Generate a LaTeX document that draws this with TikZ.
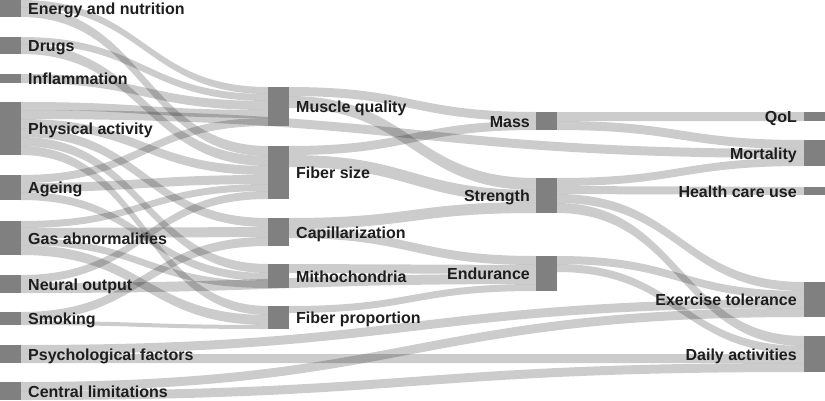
\documentclass[tikz,border=0pt]{standalone}
\usepackage{fontspec}
\setmainfont{Liberation Sans}
\usetikzlibrary{calc,backgrounds}
\definecolor{nodegray}{RGB}{128,128,128}
\definecolor{labelc}{RGB}{30,30,30}
\tikzset{
  box/.style={fill=nodegray, draw=none, minimum width=21pt, inner sep=0pt, outer sep=0pt, anchor=north west},
  flow/.style={fill=black, fill opacity=0.2},
  lbl/.style={font=\fontsize{16}{19}\selectfont\bfseries, text=labelc, inner sep=0pt},
}
\newcommand\sankeyband[5]{%
  \path (#1.north east) ++(0,#2) coordinate (s1) ++(0,#5) coordinate (s2);
  \path (#3.north west) ++(0,#4) coordinate (t1) ++(0,#5) coordinate (t2);
  \coordinate (m) at ($(s1)!0.5!(t1)$);
  \fill[flow] (s1) .. controls (m |- s1) and (m |- t1) .. (t1) -- (t2) .. controls (m |- t2) and (m |- s2) .. (s2) -- cycle;
}
\begin{document}
\begin{tikzpicture}[x=1pt,y=-1pt]
\useasboundingbox (0,0) rectangle (825,400);
% column 1
\node[box, minimum height=17pt] (E) at (0,0) {};
\node[box, minimum height=17pt] (D) at (0,37) {};
\node[box, minimum height=9pt] (I) at (0,74) {};
\node[box, minimum height=53pt] (PA) at (0,102) {};
\node[box, minimum height=25pt] (Ag) at (0,175) {};
\node[box, minimum height=34pt] (Gas) at (0,221) {};
\node[box, minimum height=18pt] (N) at (0,275) {};
\node[box, minimum height=13pt] (Sm) at (0,312) {};
\node[box, minimum height=18pt] (Psy) at (0,345) {};
\node[box, minimum height=18pt] (Cen) at (0,382) {};
% column 2
\node[box, minimum height=39pt] (MQ) at (268,87) {};
\node[box, minimum height=53pt] (FS) at (268,146) {};
\node[box, minimum height=28pt] (Cap) at (268,218) {};
\node[box, minimum height=24pt] (Mito) at (268,264) {};
\node[box, minimum height=23pt] (FP) at (268,306) {};
% column 3
\node[box, minimum height=18pt] (Mass) at (536,112) {};
\node[box, minimum height=35pt] (Str) at (536,178) {};
\node[box, minimum height=35pt] (End) at (536,256) {};
% column 4
\node[box, minimum height=9pt] (QoL) at (804,112) {};
\node[box, minimum height=26pt] (Mort) at (804,140) {};
\node[box, minimum height=8pt] (HCU) at (804,187) {};
\node[box, minimum height=35pt] (ExT) at (804,282) {};
\node[box, minimum height=36pt] (DA) at (804,336) {};

\begin{pgfonlayer}{background}
% column 1 outputs
\sankeyband{E}{0}{MQ}{0}{7}
\sankeyband{E}{7}{FS}{0}{10}
\sankeyband{D}{0}{MQ}{7}{7}
\sankeyband{D}{7}{FS}{10}{10}
\sankeyband{I}{0}{MQ}{14}{9}
\sankeyband{PA}{0}{MQ}{23}{8}
\sankeyband{PA}{8}{Mort}{9}{9}
\sankeyband{PA}{17}{FS}{20}{9}
\sankeyband{PA}{26}{Cap}{0}{9}
\sankeyband{PA}{35}{Mito}{0}{9}
\sankeyband{PA}{44}{FP}{0}{9}
\sankeyband{Ag}{0}{MQ}{31}{8}
\sankeyband{Ag}{8}{FS}{29}{9}
\sankeyband{Ag}{17}{Mito}{9}{8}
\sankeyband{Gas}{0}{FS}{38}{7}
\sankeyband{Gas}{7}{Cap}{9}{10}
\sankeyband{Gas}{17}{Mito}{17}{7}
\sankeyband{Gas}{24}{FP}{9}{10}
\sankeyband{N}{0}{FS}{45}{8}
\sankeyband{N}{8}{End}{18}{10}
\sankeyband{Sm}{0}{Cap}{19}{9}
\sankeyband{Sm}{9}{FP}{19}{4}
\sankeyband{Psy}{0}{ExT}{17}{9}
\sankeyband{Psy}{9}{DA}{18}{9}
\sankeyband{Cen}{0}{ExT}{26}{9}
\sankeyband{Cen}{9}{DA}{27}{9}
% column 2 outputs
\sankeyband{MQ}{0}{Mass}{0}{9}
\sankeyband{MQ}{9}{Str}{0}{12}
\sankeyband{FS}{0}{Mass}{9}{9}
\sankeyband{FS}{9}{Str}{12}{12}
\sankeyband{Cap}{0}{Str}{24}{11}
\sankeyband{Cap}{11}{End}{0}{9}
\sankeyband{Mito}{0}{End}{9}{9}
\sankeyband{FP}{0}{End}{28}{7}
% column 3 outputs
\sankeyband{Mass}{0}{QoL}{0}{9}
\sankeyband{Mass}{9}{Mort}{0}{9}
\sankeyband{Str}{0}{Mort}{18}{8}
\sankeyband{Str}{8}{HCU}{0}{8}
\sankeyband{Str}{16}{ExT}{0}{9}
\sankeyband{Str}{25}{DA}{0}{10}
\sankeyband{End}{0}{ExT}{9}{8}
\sankeyband{End}{8}{DA}{10}{8}
\end{pgfonlayer}

% labels
\node[lbl, anchor=base west] (lE) at ($(E.east)+(7,6.4)$) {Energy and nutrition};
\node[lbl, anchor=base west] (lD) at ($(D.east)+(7,6.4)$) {Drugs};
\node[lbl, anchor=base west] (lI) at ($(I.east)+(7,6.4)$) {Inflammation};
\node[lbl, anchor=base west] (lPA) at ($(PA.east)+(7,6.4)$) {Physical activity};
\node[lbl, anchor=base west] (lAg) at ($(Ag.east)+(7,6.4)$) {Ageing};
\node[lbl, anchor=base west] (lGas) at ($(Gas.east)+(7,6.4)$) {Gas abnormalities};
\node[lbl, anchor=base west] (lN) at ($(N.east)+(7,6.4)$) {Neural output};
\node[lbl, anchor=base west] (lSm) at ($(Sm.east)+(7,6.4)$) {Smoking};
\node[lbl, anchor=base west] (lPsy) at ($(Psy.east)+(7,6.4)$) {Psychological factors};
\node[lbl, anchor=base west] (lCen) at ($(Cen.east)+(7,6.4)$) {Central limitations};
\node[lbl, anchor=base west] (lMQ) at ($(MQ.east)+(7,6.4)$) {Muscle quality};
\node[lbl, anchor=base west] (lFS) at ($(FS.east)+(7,6.4)$) {Fiber size};
\node[lbl, anchor=base west] (lCap) at ($(Cap.east)+(7,6.4)$) {Capillarization};
\node[lbl, anchor=base west] (lMito) at ($(Mito.east)+(7,6.4)$) {Mithochondria};
\node[lbl, anchor=base west] (lFP) at ($(FP.east)+(7,6.4)$) {Fiber proportion};
\node[lbl, anchor=base east] (lMass) at ($(Mass.west)+(-6,6.4)$) {Mass};
\node[lbl, anchor=base east] (lStr) at ($(Str.west)+(-6,6.4)$) {Strength};
\node[lbl, anchor=base east] (lEnd) at ($(End.west)+(-6,6.4)$) {Endurance};
\node[lbl, anchor=base east] (lQoL) at ($(QoL.west)+(-7,6.4)$) {QoL};
\node[lbl, anchor=base east] (lMort) at ($(Mort.west)+(-7,6.4)$) {Mortality};
\node[lbl, anchor=base east] (lHCU) at ($(HCU.west)+(-7,6.4)$) {Health care use};
\node[lbl, anchor=base east] (lExT) at ($(ExT.west)+(-7,6.4)$) {Exercise tolerance};
\node[lbl, anchor=base east] (lDA) at ($(DA.west)+(-7,6.4)$) {Daily activities};
\end{tikzpicture}
\end{document}
